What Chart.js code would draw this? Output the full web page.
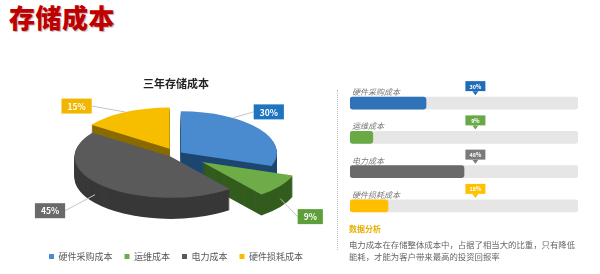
<!DOCTYPE html>
<html><head><meta charset="utf-8">
<script src="https://cdn.jsdelivr.net/npm/chart.js@4.4.1/dist/chart.umd.min.js"></script>
<style>
html,body{margin:0;padding:0;background:#fff;width:600px;height:274px;overflow:hidden;font-family:"Noto Sans CJK SC","Noto Sans",sans-serif;}
#title{position:absolute;left:9px;top:2px;font-size:26px;line-height:30px;font-weight:900;color:#c00000;letter-spacing:0.5px;text-shadow:1px 1px 1px rgba(0,0,0,0.3);}
#pieBox{position:absolute;left:0;top:60px;width:340px;height:214px;}
#sep{position:absolute;left:337px;top:90px;height:160px;border-left:1px dotted #bdbdbd;}
#barBox{position:absolute;left:340px;top:70px;width:250px;height:153px;}
#anaTitle{position:absolute;left:349px;top:224px;font-size:8px;line-height:10px;color:#e6b000;font-weight:bold;}
#anaText{position:absolute;left:349px;top:238px;width:230px;font-size:8.4px;line-height:12px;color:#666;}
</style></head>
<body>
<div id="title">存储成本</div>
<div id="pieBox"><canvas id="pie"></canvas></div>
<div id="sep"></div>
<div id="barBox"><canvas id="bars"></canvas></div>
<div id="anaTitle">数据分析</div>
<div id="anaText">电力成本在存储整体成本中，占据了相当大的比重，只有降低能耗，才能为客户带来最高的投资回报率</div>
<script>
// ---- data ----
const categories = ['硬件采购成本', '运维成本', '电力成本', '硬件损耗成本'];
const costShare = [30, 9, 45, 15];
const pieLabels = ['30%', '9%', '45%', '15%'];
const barBubbleLabels = ['30%', '9%', '48%', '18%'];
const pieTitle = '三年存储成本';

// ---- styles ----
const topColors = ['#4a8bd0', '#6dac46', '#5a5a5a', '#f7be00'];
const sideColors = ['#1d4670', '#335c1e', '#383838', '#8a6b00'];
const labelColors = ['#1f74c0', '#5e9e3b', '#6a6a6a', '#f2b600'];
const barColors = ['#2e72b8', '#6aaa45', '#6a6a6a', '#ffbf00'];
const bubbleColors = ['#1f6db8', '#68a947', '#7a7a7a', '#ffc000'];
const pieStyle = {
  radius: 96, tilt: 0.43, depth: 21, shiftY: -11,
  explode: [6, 32, 8, 14],
  anchorFrac: [0.3, 0.5, 0.55, 0.5],
  labelOffset: [[36, -6], [30, 18], [-45, 16], [-49, -6]]
};
const barMax = 90;

const pie3d = {
  id: 'pie3d',
  beforeDatasetsDraw(chart) {
    const ctx = chart.ctx;
    const els = chart.getDatasetMeta(0).data;
    const k = pieStyle.tilt, D = pieStyle.depth;
    const mids = els.map(el => (el.startAngle + el.endAngle) / 2);
    const order = els.map((e, i) => i).sort((a, b) => Math.sin(mids[a]) - Math.sin(mids[b]));
    const setT = (el, i, dy) => {
      const off = pieStyle.explode[i];
      ctx.translate(el.x, el.y + pieStyle.shiftY + dy);
      ctx.scale(1, k);
      ctx.translate(Math.cos(mids[i]) * off, Math.sin(mids[i]) * off);
      ctx.translate(-el.x, -el.y);
    };
    order.forEach(i => {
      const el = els[i];
      for (let d = D; d >= 1; d--) {
        ctx.save();
        setT(el, i, d);
        ctx.beginPath();
        ctx.moveTo(el.x, el.y);
        ctx.arc(el.x, el.y, el.outerRadius, el.startAngle, el.endAngle);
        ctx.closePath();
        ctx.fillStyle = sideColors[i];
        ctx.fill();
        ctx.restore();
      }
      ctx.save();
      setT(el, i, 0);
      el.draw(ctx);
      ctx.restore();
    });
    // labels
    els.forEach((el, i) => {
      const off = pieStyle.explode[i];
      const a = el.startAngle + (el.endAngle - el.startAngle) * pieStyle.anchorFrac[i];
      let ax = el.x + Math.cos(mids[i]) * off + Math.cos(a) * el.outerRadius;
      let ay = el.y + pieStyle.shiftY + (Math.sin(mids[i]) * off + Math.sin(a) * el.outerRadius) * k;
      if (Math.sin(a) > 0) ay += D * 0.6;
      const bx = ax + pieStyle.labelOffset[i][0];
      const by = ay + pieStyle.labelOffset[i][1];
      ctx.save();
      ctx.font = 'bold 8.5px "Noto Sans CJK SC", sans-serif';
      const w = ctx.measureText(pieLabels[i]).width + 12, h = 15;
      const ex = bx > ax ? bx - w / 2 : bx + w / 2;
      ctx.strokeStyle = '#c4c4c4';
      ctx.lineWidth = 1;
      ctx.beginPath(); ctx.moveTo(ax, ay); ctx.lineTo(ex, by); ctx.stroke();
      ctx.fillStyle = labelColors[i];
      ctx.fillRect(bx - w / 2, by - h / 2, w, h);
      ctx.fillStyle = '#fff';
      ctx.textAlign = 'center'; ctx.textBaseline = 'middle';
      ctx.fillText(pieLabels[i], bx, by + 0.5);
      ctx.restore();
    });
    return false;
  }
};

new Chart(document.getElementById('pie'), {
  type: 'pie',
  data: { labels: categories, datasets: [{ data: costShare, backgroundColor: topColors, borderWidth: 0 }] },
  options: {
    responsive: true, maintainAspectRatio: false, animation: false,
    radius: pieStyle.radius,
    layout: { padding: { left: 12, right: 0, top: 0, bottom: 3 } },
    plugins: {
      title: { display: true, text: pieTitle, color: '#222', font: { size: 11, weight: 'bold', family: '"Noto Sans CJK SC", sans-serif' }, padding: { top: 17, bottom: 0 } },
      legend: { position: 'bottom', labels: { boxWidth: 5, boxHeight: 5, padding: 12, color: '#595959', font: { size: 9, family: '"Noto Sans CJK SC", sans-serif' } } },
      tooltip: { enabled: false }
    }
  },
  plugins: [pie3d]
});

const barDecor = {
  id: 'barDecor',
  afterDatasetsDraw(chart) {
    const ctx = chart.ctx;
    const xs = chart.scales.x;
    const bx = xs.getPixelForValue(barMax * 0.55);
    chart.getDatasetMeta(0).data.forEach((el, i) => {
      ctx.save();
      ctx.font = 'italic 8px "Noto Sans CJK SC", sans-serif';
      ctx.fillStyle = '#7a7a7a';
      ctx.textBaseline = 'middle';
      ctx.fillText(categories[i], chart.chartArea.left + 2, el.y - 11);
      const w = 20, h = 10, top = el.y - 22;
      ctx.fillStyle = bubbleColors[i];
      ctx.fillRect(bx - w / 2, top, w, h);
      ctx.beginPath();
      ctx.moveTo(bx - 3, top + h); ctx.lineTo(bx + 3, top + h); ctx.lineTo(bx, top + h + 4); ctx.closePath();
      ctx.fill();
      ctx.fillStyle = '#fff';
      ctx.font = 'bold 5.5px "Noto Sans CJK SC", sans-serif';
      ctx.textAlign = 'center';
      ctx.fillText(barBubbleLabels[i], bx, top + h / 2 + 0.5);
      ctx.restore();
    });
  }
};

new Chart(document.getElementById('bars'), {
  type: 'bar',
  data: {
    labels: categories,
    datasets: [
      { data: costShare, backgroundColor: barColors, barThickness: 12, borderRadius: 3, borderSkipped: false, grouped: false, order: 0 },
      { data: categories.map(() => barMax), backgroundColor: '#e6e6e6', barThickness: 12, borderRadius: 3, borderSkipped: false, grouped: false, order: 1 }
    ]
  },
  options: {
    indexAxis: 'y', responsive: true, maintainAspectRatio: false, animation: false,
    layout: { padding: { left: 10, right: 12, top: 16, bottom: 0 } },
    scales: { x: { display: false, min: 0, max: barMax }, y: { display: false } },
    plugins: { legend: { display: false }, tooltip: { enabled: false } }
  },
  plugins: [barDecor]
});
</script>
</body></html>
